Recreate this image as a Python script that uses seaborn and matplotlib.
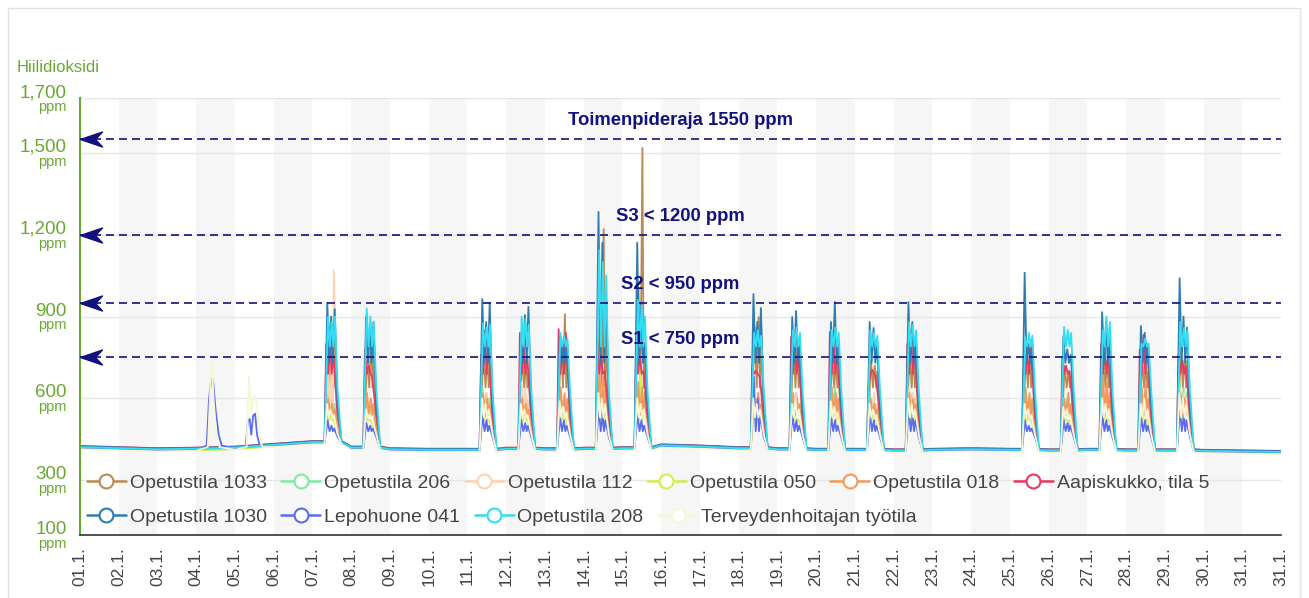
import numpy as np
import pandas as pd
import matplotlib
matplotlib.use("Agg")
from matplotlib import pyplot as plt
from matplotlib.lines import Line2D
from matplotlib.path import Path
from matplotlib.patches import Rectangle
import seaborn as sns

# ---- data ----
series_names = ["Opetustila 1033", "Opetustila 206", "Opetustila 112", "Opetustila 050",
                "Opetustila 018", "Aapiskukko, tila 5", "Opetustila 1030", "Lepohuone 041",
                "Opetustila 208", "Terveydenhoitajan työtila"]
series_colors = ["#bd8a52", "#7deaa6", "#ffd3b2", "#d4ee4f", "#f29a5c",
                 "#e63a62", "#2e7cb4", "#5b6cf0", "#33ddf2", "#f6f6d8"]

day_labels = ["01.1.", "02.1.", "03.1.", "04.1.", "05.1.", "06.1.", "07.1.", "08.1.",
              "09.1.", "10.1.", "11.1.", "12.1.", "13.1.", "14.1.", "15.1.", "16.1.",
              "17.1.", "18.1.", "19.1.", "20.1.", "21.1.", "22.1.", "23.1.", "24.1.",
              "25.1.", "26.1.", "27.1.", "28.1.", "29.1.", "30.1.", "31.1.", "31.1."]

# night-time level at each midnight (ppm)
baseline = [422, 418, 414, 416, 420, 430, 440, 420, 414, 412, 412, 416, 414, 416, 418, 428,
            424, 418, 414, 412, 412, 410, 412, 414, 412, 410, 412, 410, 410, 408, 406, 404]
base_shift = [2, -4, 0, -6, -2, 4, 3, -3, 0, -8]

school_days = [7, 8, 11, 12, 13, 14, 15, 18, 19, 20, 21, 22, 25, 26, 27, 28, 29]

# three peaks per school day
peaks_1033 = [[880, 860, 820], [760, 850, 800], [780, 760, 720], [760, 740, 700], [800, 909, 780],
              [900, 1220, 850], [1000, 1517, 800], [860, 898, 850], [800, 780, 760], [760, 740, 720],
              [740, 720, 700], [780, 760, 740], [760, 780, 803], [720, 700, 680], [760, 740, 720],
              [740, 720, 700], [780, 760, 740]]
peaks_206 = [[620, 600, 580], [600, 580, 560], [640, 620, 600], [600, 580, 560], [620, 600, 580],
             [680, 650, 620], [640, 620, 600], [620, 600, 580], [600, 620, 580], [600, 640, 600],
             [620, 600, 580], [640, 620, 600], [600, 580, 560], [580, 600, 560], [620, 640, 600],
             [600, 620, 580], [660, 640, 620]]
peaks_112 = [[700, 750, 1070], [620, 600, 580], [600, 620, 580], [660, 640, 600], [620, 600, 580],
             [700, 680, 640], [640, 620, 600], [640, 620, 600], [600, 620, 580], [620, 600, 580],
             [600, 620, 580], [640, 620, 600], [620, 600, 580], [600, 580, 560], [620, 600, 580],
             [600, 620, 580], [640, 620, 600]]
peaks_050 = [[560, 540, 520], [540, 520, 500], [560, 540, 520], [540, 560, 520], [560, 540, 520],
             [620, 600, 580], [640, 760, 600], [560, 540, 520], [540, 560, 520], [560, 600, 540],
             [560, 540, 520], [580, 560, 540], [560, 540, 520], [540, 520, 500], [560, 540, 520],
             [540, 560, 520], [560, 540, 520]]
peaks_018 = [[600, 580, 560], [620, 600, 580], [620, 600, 580], [600, 580, 560], [640, 620, 600],
             [700, 680, 640], [660, 640, 620], [600, 620, 580], [620, 600, 580], [640, 620, 600],
             [600, 580, 560], [620, 600, 580], [640, 620, 600], [600, 620, 580], [680, 660, 620],
             [640, 660, 600], [620, 600, 580]]
peaks_aapis = [[800, 860, 760], [780, 720, 680], [760, 850, 800], [840, 800, 760], [854, 800, 840],
               [800, 760, 700], [803, 760, 700], [720, 700, 680], [825, 800, 760], [843, 820, 780],
               [650, 705, 680], [800, 850, 780], [700, 760, 790], [748, 720, 700], [800, 780, 760],
               [780, 832, 800], [760, 740, 720]]
peaks_1030 = [[950, 900, 927], [900, 860, 880], [964, 880, 950], [820, 905, 935], [825, 800, 780],
              [1283, 1170, 1000], [1170, 950, 800], [982, 880, 931], [898, 920, 820], [880, 953, 800],
              [880, 858, 800], [953, 880, 820], [1060, 800, 780], [829, 780, 760], [916, 880, 820],
              [865, 840, 780], [1040, 900, 860]]
peaks_lepo = [[520, 500, 490], [510, 500, 490], [540, 520, 500], [520, 510, 500], [530, 520, 500],
              [560, 540, 520], [540, 520, 500], [680, 600, 540], [540, 520, 500], [530, 520, 500],
              [540, 520, 500], [560, 540, 520], [520, 500, 490], [520, 510, 500], [540, 520, 500],
              [530, 520, 500], [560, 540, 520]]
peaks_208 = [[898, 880, 900], [930, 900, 880], [876, 860, 870], [900, 890, 870], [840, 830, 820],
             [1143, 1100, 1050], [960, 940, 900], [840, 850, 830], [850, 860, 840], [850, 860, 840],
             [850, 840, 830], [880, 870, 850], [825, 840, 830], [862, 850, 840], [850, 900, 880],
             [800, 820, 800], [880, 858, 850]]
peaks_terv = [[580, 560, 540], [560, 540, 520], [600, 580, 560], [580, 560, 540], [590, 570, 550],
              [620, 600, 580], [600, 580, 560], [600, 580, 560], [580, 600, 560], [590, 570, 550],
              [580, 560, 540], [600, 580, 560], [580, 560, 540], [570, 560, 540], [600, 580, 560],
              [580, 600, 560], [620, 600, 580]]

# clock hour of each peak
hours_1033 = [10.0, 12.4, 14.0]
hours_206 = [9.3, 11.7, 13.6]
hours_112 = [9.6, 12.0, 13.2]
hours_050 = [9.0, 11.4, 13.4]
hours_018 = [9.8, 12.2, 13.9]
hours_aapis = [8.5, 10.8, 13.0]
hours_1030 = [9.2, 11.6, 13.8]
hours_lepo = [9.4, 11.8, 13.5]
hours_208 = [9.6, 11.9, 14.0]
hours_terv = [9.1, 11.2, 13.3]

dip_level = [640, 540, 540, 520, 540, 690, 730, 480, 790, 530]
tail_level = [480, 470, 480, 470, 480, 540, 580, 460, 640, 470]

# the extra readings on 04.1. and 05.1.
lepo_extra_t = [3.27, 3.33, 3.40, 3.44, 3.50, 3.58, 3.66, 4.28, 4.33, 4.38, 4.42, 4.47, 4.52, 4.57, 4.64]
lepo_extra_v = [430, 600, 690, 660, 560, 470, 430, 430, 520, 528, 470, 540, 547, 470, 430]
terv_extra_t = [3.30, 3.38, 3.41, 3.45, 3.52, 3.60, 4.30, 4.36, 4.42, 4.50, 4.56, 4.62, 4.70]
terv_extra_v = [430, 700, 733, 600, 480, 430, 430, 686, 560, 620, 594, 480, 430]

thresholds = [1550, 1200, 950, 750]
threshold_labels = ["Toimenpideraja 1550 ppm", "S3 < 1200 ppm", "S2 < 950 ppm", "S1 < 750 ppm"]
ytick_values = [100, 300, 600, 900, 1200, 1500, 1700]

# ---- long table ----
peaks = [peaks_1033, peaks_206, peaks_112, peaks_050, peaks_018,
         peaks_aapis, peaks_1030, peaks_lepo, peaks_208, peaks_terv]
hours = [hours_1033, hours_206, hours_112, hours_050, hours_018,
         hours_aapis, hours_1030, hours_lepo, hours_208, hours_terv]
extras = {"Lepohuone 041": (lepo_extra_t, lepo_extra_v),
          "Terveydenhoitajan työtila": (terv_extra_t, terv_extra_v)}

rows = []
for s, name in enumerate(series_names):
    pts = {}
    for d in range(len(baseline)):
        pts[float(d)] = baseline[d] + base_shift[s]
    h = hours[s]
    for k, day in enumerate(school_days):
        d0 = day - 1
        b0 = baseline[d0] + base_shift[s]
        p = peaks[s][k]
        knots = [(7.5, b0), (h[0], p[0]), ((h[0] + h[1]) / 2, dip_level[s]),
                 (h[1], p[1]), ((h[1] + h[2]) / 2, dip_level[s]), (h[2], p[2]),
                 (15.5, tail_level[s]), (18.0, b0)]
        for hh, v in knots:
            pts[d0 + hh / 24] = v
    if name in extras:
        for t, v in zip(*extras[name]):
            pts[t] = v + base_shift[s]
    for t in sorted(pts):
        rows.append((name, t, pts[t]))
df = pd.DataFrame(rows, columns=["series", "day", "ppm"])

# ---- plot ----
sns.set_style("white")
plt.rcParams['font.family'] = ['Liberation Sans', 'DejaVu Sans']

green = "#6aa832"
navy = "#12127e"

fig = plt.figure(figsize=(13.09, 5.98), dpi=100)
fig.patches.append(Rectangle((8 / 1309, -0.05), 1292 / 1309, 1 - 8 / 598 + 0.05,
                             transform=fig.transFigure, fill=False, edgecolor="#e2e2e2", lw=1))
ax = fig.add_axes([80 / 1309, 1 - 535 / 598, 1201 / 1309, 437 / 598])

for i in range(1, 31, 2):
    ax.axvspan(i, i + 1, color="#f6f6f6", lw=0, zorder=0.1)

sns.lineplot(data=df, x="day", y="ppm", hue="series", hue_order=series_names,
             palette=dict(zip(series_names, series_colors)), estimator=None,
             linewidth=1.3, legend=False, ax=ax)

ax.set_xlim(0, 31)
ax.set_ylim(100, 1700)
ax.set_xlabel("")
ax.set_ylabel("")
ax.set_xticks(range(len(day_labels)))
ax.set_xticklabels(day_labels, rotation=90, fontsize=12.5, color="#444444")
ax.tick_params(axis="x", length=0, pad=8.5)
ax.set_yticks(ytick_values)
ax.tick_params(axis="y", length=5, width=1.5, color=green, labelleft=False)
ax.set_axisbelow(True)
ax.grid(axis="y", color="#e6e6e6", lw=1)
ax.grid(axis="x", visible=False)
for side in ["top", "right"]:
    ax.spines[side].set_visible(False)
ax.spines["left"].set_color(green)
ax.spines["left"].set_linewidth(1.5)
ax.spines["bottom"].set_color("#333333")
ax.spines["bottom"].set_linewidth(1.2)

# two-line y tick labels
for v in ytick_values:
    ax.annotate(f"{v:,}", xy=(0, v), xycoords=ax.get_yaxis_transform(), xytext=(-13, 1),
                textcoords="offset pixels", ha="right", va="baseline", fontsize=13.5,
                color=green, annotation_clip=False)
    ax.annotate("ppm", xy=(0, v), xycoords=ax.get_yaxis_transform(), xytext=(-13, -13),
                textcoords="offset pixels", ha="right", va="baseline", fontsize=10.5,
                color=green, annotation_clip=False)
fig.text(17 / 1309, 1 - 67 / 598, "Hiilidioksidi", color=green, fontsize=12, va="center")

# threshold lines with arrow heads
arrow = Path([(0, 0), (22, 7.5), (15, 0), (22, -7.5), (0, 0)],
             [Path.MOVETO, Path.LINETO, Path.LINETO, Path.LINETO, Path.CLOSEPOLY])
for v, lab in zip(thresholds, threshold_labels):
    ax.axhline(v, color=navy, lw=1.2, ls=(0, (4.8, 3.0)), zorder=4)
    ax.annotate(lab, xy=(15.49, v), xytext=(0, 18), textcoords="offset pixels",
                ha="center", va="center", fontsize=13.3, fontweight="bold", color=navy, zorder=6)
ax.plot([0] * len(thresholds), thresholds, ls="none", marker=arrow, ms=31.7,
        color=navy, clip_on=False, zorder=7)

# legend in two rows
handles = [Line2D([], [], color=c, lw=1.8, marker="o", ms=10, mfc="white", mec=c, mew=1.5)
           for c in series_colors]
leg_kw = dict(frameon=False, fontsize=14, handlelength=2.0, handletextpad=0.2,
              columnspacing=0.75, borderpad=0, borderaxespad=0, labelcolor="#444444",
              loc="center left")
leg1 = ax.legend(handles[:6], series_names[:6], ncol=6, bbox_to_anchor=(0.0058, 0.119), **leg_kw)
ax.add_artist(leg1)
ax.legend(handles[6:], series_names[6:], ncol=4, bbox_to_anchor=(0.0058, 0.041), **leg_kw)

fig.savefig("out.png", dpi=100)
